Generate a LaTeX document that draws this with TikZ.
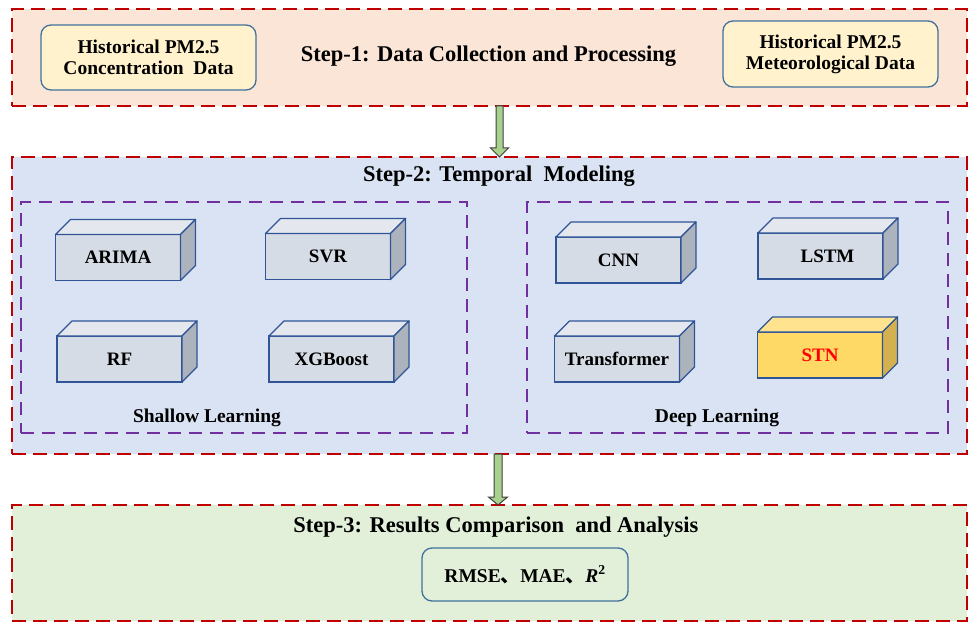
\documentclass[tikz,border=0pt]{standalone}
\usepackage{fontspec}
\setmainfont{Liberation Serif}
\newfontfamily\cjk{Noto Sans CJK SC}
\usetikzlibrary{calc}
\definecolor{dred}{HTML}{C00000}
\definecolor{peach}{HTML}{FBE5D6}
\definecolor{lblue}{HTML}{DAE3F3}
\definecolor{lgreen}{HTML}{E2F0D9}
\definecolor{cream}{HTML}{FFF2CC}
\definecolor{bord}{HTML}{41719C}
\definecolor{purp}{HTML}{7030A0}
\definecolor{cubeline}{HTML}{2F5597}
\definecolor{cfront}{HTML}{D6DCE5}
\definecolor{ctop}{HTML}{E4E8EE}
\definecolor{cside}{HTML}{ADB3BC}
\definecolor{sfront}{HTML}{FFD966}
\definecolor{stop}{HTML}{FFE38F}
\definecolor{sside}{HTML}{D5B04E}
\definecolor{agreen}{HTML}{A9D18E}
\definecolor{aline}{HTML}{404040}
\tikzset{
  stepbox/.style={draw=dred, line width=2.4pt, dash pattern=on 14pt off 7pt, inner sep=0pt, outer sep=0pt},
  groupbox/.style={draw=purp, line width=2pt, dash pattern=on 13pt off 8pt, inner sep=0pt, outer sep=0pt},
  databox/.style={draw=bord, line width=1.3pt, rounded corners=10pt, fill=cream, align=center, font=\bfseries\fontsize{19.5}{21}\selectfont, inner sep=0pt, outer sep=0pt},
  resbox/.style={draw=bord, line width=1.3pt, rounded corners=10pt, fill=lgreen, font=\bfseries\fontsize{19.5}{21}\selectfont, inner sep=0pt, outer sep=0pt},
  steptitle/.style={font=\bfseries\fontsize{22.5}{24}\selectfont, anchor=base, inner sep=0pt},
  grouplabel/.style={font=\bfseries\fontsize{19.5}{21}\selectfont, anchor=base, inner sep=0pt},
  cubefront/.style={draw=cubeline, line width=1.3pt, minimum width=125pt, minimum height=46pt, inner sep=0pt, outer sep=0pt, font=\bfseries\fontsize{19}{21}\selectfont},
  cubeedge/.style={draw=cubeline, line width=1.3pt, line join=round},
  bigarrow/.style={fill=agreen, draw=aline, line width=1pt, line join=miter}
}
\newcommand\mycube[6]{%
  \node[cubefront, fill=#4] (#1) at (#2) {#3};
  \draw[cubeedge, fill=#5] (#1.north west) -- ++(15,-15) -- ($(#1.north east)+(15,-15)$) -- (#1.north east) -- cycle;
  \draw[cubeedge, fill=#6] (#1.north east) -- ++(15,-15) -- ($(#1.south east)+(15,-15)$) -- (#1.south east) -- cycle;
}
\begin{document}
\begin{tikzpicture}[x=1pt,y=-1pt]
\useasboundingbox[fill=white] (0,0) rectangle (970,623);
% step boxes
\node[stepbox, fill=peach, minimum width=955pt, minimum height=97pt] (s1) at (489.5,57.5) {};
\node[stepbox, fill=lblue, minimum width=955pt, minimum height=297pt] (s2) at (489.5,305.5) {};
\node[stepbox, fill=lgreen, minimum width=955pt, minimum height=116pt] (s3) at (489.5,563) {};
% titles
\node[steptitle] (t1) at (488.5,62) {Step-1: Data Collection and Processing};
\node[steptitle] (t2) at (499,182) {Step-2: Temporal \ Modeling};
\node[steptitle] (t3) at (496,532) {Step-3: Results Comparison \ and Analysis};
% data boxes
\node[databox, minimum width=215pt, minimum height=65pt] (d1) at (148.5,57.5) {Historical PM2.5\\Concentration \ Data};
\node[databox, minimum width=215pt, minimum height=66pt] (d2) at (830.5,54) {Historical PM2.5\\Meteorological Data};
% group boxes
\node[groupbox, minimum width=446pt, minimum height=231pt] (g1) at (244,317.5) {};
\node[groupbox, minimum width=421pt, minimum height=231pt] (g2) at (737.5,317.5) {};
\node[grouplabel] (l1) at (207,422) {Shallow Learning};
\node[grouplabel] (l2) at (717,422) {Deep Learning};
% cubes
\mycube{arima}{118,257.5}{ARIMA}{cfront}{ctop}{cside}
\mycube{svr}{328,256.5}{SVR}{cfront}{ctop}{cside}
\mycube{rf}{119.5,359}{RF}{cfront}{ctop}{cside}
\mycube{xgb}{331.5,359}{XGBoost}{cfront}{ctop}{cside}
\mycube{cnn}{618.5,260}{CNN}{cfront}{ctop}{cside}
\mycube{lstm}{820.5,256}{\hspace*{14pt}LSTM}{cfront}{ctop}{cside}
\mycube{trans}{617,359}{Transformer}{cfront}{ctop}{cside}
\mycube{stn}{820,355}{\textcolor{red}{STN}}{sfront}{stop}{sside}
% result box
\node[resbox, minimum width=206pt, minimum height=53pt] (res) at (525,574.5) {RMSE{\cjk 、}MAE{\cjk 、}\textit{R}\textsuperscript{2}};
% arrows
\draw[bigarrow] ($(s1.south)+(6.5,0)$) -- ($(s2.north)+(6.5,-9)$) -- ($(s2.north)+(1,-9)$)
  -- ($(s2.north)+(10,0)$) -- ($(s2.north)+(19,-9)$) -- ($(s2.north)+(13.5,-9)$) -- ($(s1.south)+(13.5,0)$) -- cycle;
\draw[bigarrow] ($(s2.south)+(4.5,0)$) -- ($(s3.north)+(4.5,-8)$) -- ($(s3.north)+(-1,-8)$)
  -- ($(s3.north)+(8.5,0)$) -- ($(s3.north)+(18,-8)$) -- ($(s3.north)+(12.5,-8)$) -- ($(s2.south)+(12.5,0)$) -- cycle;
\end{tikzpicture}
\end{document}
